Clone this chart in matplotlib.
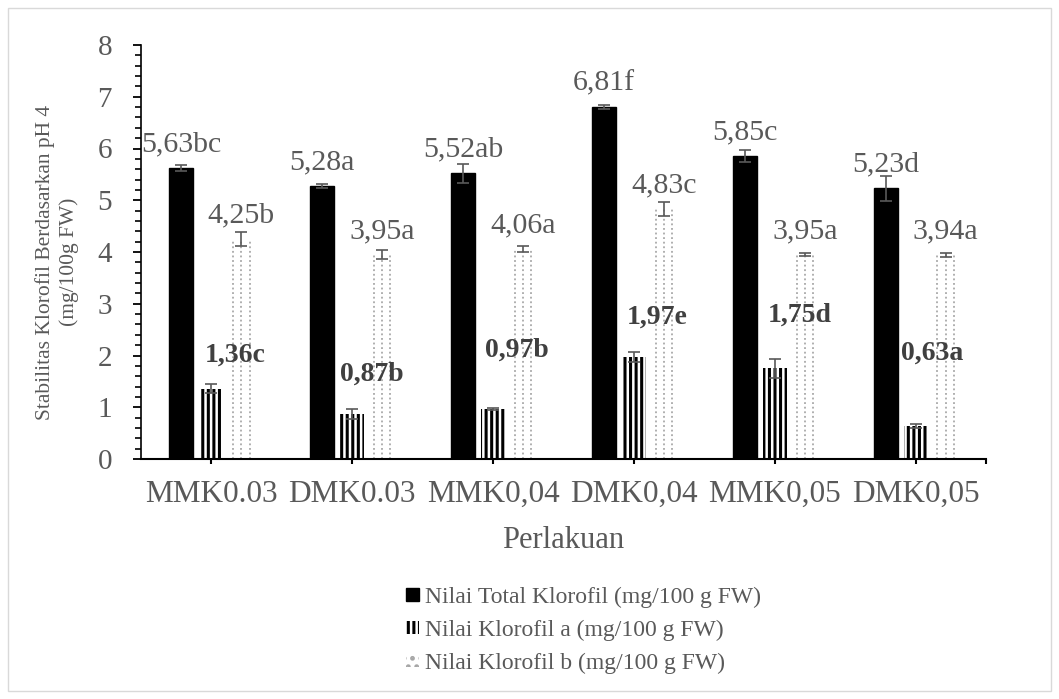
import matplotlib
matplotlib.use("Agg")
import matplotlib.pyplot as plt
from matplotlib.patches import Patch, Rectangle
from matplotlib.ticker import MultipleLocator
import numpy as np

# Treatments and measured chlorophyll values (mg/100 g FW)
categories = ["MMK0.03", "DMK0.03", "MMK0,04", "DMK0,04", "MMK0,05", "DMK0,05"]
total_chl = [5.63, 5.28, 5.52, 6.81, 5.85, 5.23]
total_err = [0.06, 0.04, 0.19, 0.04, 0.12, 0.24]
total_letters = ["bc", "a", "ab", "f", "c", "d"]

chl_a = [1.36, 0.87, 0.97, 1.97, 1.75, 0.63]
chl_a_err = [0.08, 0.09, 0.02, 0.10, 0.19, 0.04]
chl_a_letters = ["c", "b", "b", "e", "d", "a"]

chl_b = [4.25, 3.95, 4.06, 4.83, 3.95, 3.94]
chl_b_err = [0.13, 0.08, 0.06, 0.13, 0.03, 0.04]
chl_b_letters = ["b", "a", "a", "c", "a", "a"]

series_names = ["Nilai Total Klorofil (mg/100 g FW)",
                "Nilai Klorofil a (mg/100 g FW)",
                "Nilai Klorofil b (mg/100 g FW)"]

# Hand-placed offsets (points) for the bold chlorophyll-a labels
a_label_dx = [17, 14, 17, 17, 18, 12]
a_label_dy = [24, 29, 42, 29, 38, 53]

GREY = "#595959"
plt.rcParams["font.family"] = ["Liberation Serif", "DejaVu Serif"]
plt.rcParams["hatch.linewidth"] = 2.2

fig = plt.figure(figsize=(10.59, 6.99), dpi=100)
ax = fig.add_axes([141 / 1059, 1 - 459 / 699, 845 / 1059, 414 / 699])

fig.patches.append(Rectangle((8 / 1059, 8 / 699), 1043 / 1059, 683 / 699,
                             transform=fig.transFigure, fill=False,
                             edgecolor="#d9d9d9", linewidth=1.0))

x = np.arange(len(categories))
w = 0.17
step = 0.213

def fmt(v):
    return f"{v:.2f}".replace(".", ",")

err_kw = dict(ecolor=GREY, elinewidth=1.2, capsize=4.5, capthick=1.2)

# Total chlorophyll: solid black
ax.bar(x - step, total_chl, width=w, color="black", edgecolor="black",
       yerr=total_err, error_kw=err_kw, zorder=2)

# Chlorophyll a: wide vertical stripes
ax.bar(x, chl_a, width=w, facecolor="white", edgecolor="black",
       linewidth=0, hatch="|||", yerr=chl_a_err, error_kw=err_kw, zorder=2)

# Chlorophyll b: light dotted columns
ax.bar(x + step, chl_b, width=w, facecolor="white", edgecolor="none",
       zorder=1)
for d in (-0.058, 0.0, 0.058):
    ax.vlines(x + step + d, 0, chl_b, colors="#9a9a9a", linewidth=1.1,
              linestyles=(0, (1.2, 1.8)), zorder=2)
ax.errorbar(x + step, chl_b, yerr=chl_b_err, fmt="none", zorder=3, **err_kw)

# Value labels
for i in range(len(categories)):
    ax.annotate(fmt(total_chl[i]) + total_letters[i], (x[i] - step, total_chl[i]),
                xytext=(0, 17), textcoords="offset points", ha="center",
                va="center", fontsize=21.5, color=GREY, zorder=4)
    ax.annotate(fmt(chl_b[i]) + chl_b_letters[i], (x[i] + step, chl_b[i]),
                xytext=(0, 17), textcoords="offset points", ha="center",
                va="center", fontsize=21.5, color=GREY, zorder=4)
    ax.annotate(fmt(chl_a[i]) + chl_a_letters[i], (x[i], chl_a[i]),
                xytext=(a_label_dx[i], a_label_dy[i]), textcoords="offset points",
                ha="center", va="center", fontsize=20, fontweight="bold",
                color="#404040", zorder=4)

# Axes styling
ax.set_xlim(-0.5, 5.5)
ax.set_ylim(0, 8)
ax.yaxis.set_major_locator(MultipleLocator(1))
ax.yaxis.set_minor_locator(MultipleLocator(0.2))
ax.set_xticks(list(x) + [5.5])
ax.set_xticklabels(categories + [""])
for side in ("top", "right"):
    ax.spines[side].set_visible(False)
ax.spines["left"].set_linewidth(1.2)
ax.spines["bottom"].set_linewidth(1.5)
ax.tick_params(axis="y", which="major", direction="out", length=5.8, width=1.3,
               pad=15, labelsize=21, labelcolor=GREY)
ax.tick_params(axis="y", which="minor", direction="out", length=4.3, width=1.2)
ax.tick_params(axis="x", direction="out", length=3.8, width=1.5, pad=11,
               labelsize=22.5, labelcolor=GREY)

fig.text(57 / 1059, 1 - 262 / 699,
         "Stabilitas Klorofil Berdasarkan pH 4\n(mg/100g FW)",
         rotation=90, ha="center", va="center", multialignment="center",
         fontsize=15.5, color=GREY, linespacing=1.25)
fig.text(563 / 1059, 1 - 541 / 699, "Perlakuan", ha="center", va="center",
         fontsize=22, color=GREY)

handles = [Patch(facecolor="black", edgecolor="black"),
           Patch(facecolor="white", edgecolor="black", linewidth=0, hatch="|||"),
           Patch(facecolor="white", edgecolor="#a6a6a6", linewidth=0, hatch="..")]
leg = fig.legend(handles, series_names, loc="center left",
                 bbox_to_anchor=(406 / 1059, 1 - 630 / 699), frameon=False,
                 fontsize=17, handlelength=0.55, handleheight=0.45,
                 handletextpad=0.25, labelspacing=0.5, borderpad=0,
                 borderaxespad=0)
for t in leg.get_texts():
    t.set_color(GREY)

fig.savefig("out.png", dpi=100, facecolor="white")
